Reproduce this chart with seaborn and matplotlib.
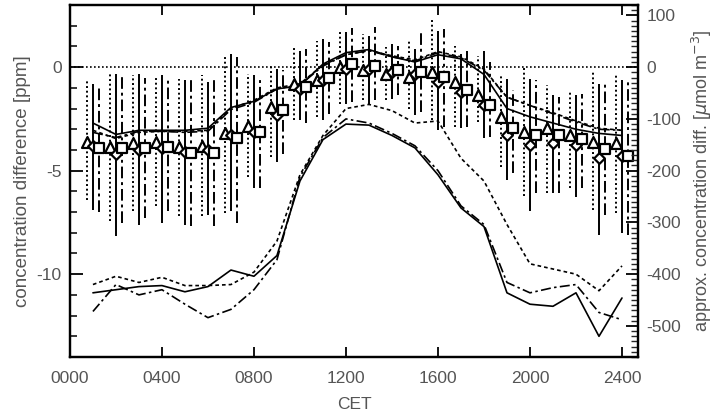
#! /bin/env python3

'''
Diurnal cycle of concentration differences (ppm) with approx. molar axis
'''

import numpy as np
import pandas as pd
import matplotlib
matplotlib.use('Agg')
import matplotlib.pyplot as plt
from matplotlib.ticker import MultipleLocator
import seaborn as sns

# hours of day (CET)
hours = list(range(1, 25))
xtick_pos = [0, 4, 8, 12, 16, 20, 24]
xtick_labels = ['0000', '0400', '0800', '1200', '1600', '2000', '2400']

# upper lines (ppm)
up_solid = [-2.7, -3.25, -3.05, -3.05, -3.05, -2.95, -1.95, -1.65, -1.05, -0.9, 0.15, 0.7,
            0.85, 0.5, 0.25, 0.6, 0.4, -0.35, -2.0, -2.4, -2.7, -3.0, -3.2, -3.3]
up_dot = [-3.05, -3.45, -3.15, -3.1, -3.1, -3.05, -2.0, -1.6, -1.0, -0.8, 0.1, 0.6,
          0.8, 0.55, 0.35, 0.75, 0.5, -0.1, -1.45, -1.85, -2.2, -2.6, -2.95, -3.05]
up_dashdot = [-3.15, -3.4, -3.1, -3.1, -3.15, -3.1, -2.05, -1.7, -1.05, -0.85, 0.05, 0.6,
              0.8, 0.5, 0.3, 0.7, 0.45, -0.15, -1.45, -1.85, -2.25, -2.65, -3.0, -3.05]

# lower lines (ppm)
low_solid = [-10.9, -10.75, -10.6, -10.55, -10.85, -10.6, -9.8, -10.1, -9.1, -5.5, -3.5, -2.75,
             -2.8, -3.3, -3.9, -5.2, -6.8, -7.7, -10.9, -11.45, -11.55, -10.9, -13.0, -11.15]
low_dot = [-10.5, -10.1, -10.4, -10.15, -10.55, -10.55, -10.5, -9.9, -8.4, -5.2, -3.3, -2.0,
           -1.8, -2.1, -2.7, -2.6, -4.4, -5.5, -7.6, -9.5, -9.75, -10.0, -10.8, -9.6]
low_dashdot = [-11.8, -10.5, -11.0, -10.75, -11.45, -12.1, -11.7, -10.75, -9.3, -5.3, -3.4, -2.5,
               -2.7, -3.2, -3.8, -5.0, -6.7, -7.6, -10.4, -10.9, -10.65, -10.5, -11.85, -12.2]

# hourly means with ranges: triangles (dotted bars)
tri = [-3.6, -3.85, -3.68, -3.6, -3.85, -3.8, -3.2, -2.85, -1.92, -0.8, -0.64, 0.0,
       -0.16, -0.32, -0.48, -0.24, -0.72, -1.36, -2.4, -3.12, -2.96, -3.28, -3.6, -3.65]
tri_lo = [-6.4, -7.45, -6.97, -6.73, -7.21, -7.21, -7.05, -5.29, -4.33, -2.56, -2.4, -1.8,
          -1.6, -1.6, -2.0, -2.56, -2.88, -2.64, -4.8, -6.2, -6.07, -5.85, -6.89, -7.05]
tri_hi = [-0.55, -0.24, -0.4, -0.45, -0.56, -0.4, 0.56, -0.32, 0.16, 0.96, 1.28, 1.76,
          1.6, 0.96, 1.36, 2.32, 1.04, 0.56, -0.4, 0.0, -0.88, -1.12, -0.24, -0.32]

# diamonds (solid bars)
dia = [-3.81, -4.2, -4.0, -3.9, -4.08, -4.0, -3.3, -3.12, -2.32, -1.04, -0.64, -0.08,
       -0.1, -0.25, -0.35, -0.72, -1.2, -1.84, -3.28, -3.76, -3.68, -3.76, -4.4, -4.29]
dia_lo = [-6.89, -8.17, -7.61, -7.53, -7.61, -7.13, -6.97, -5.85, -4.57, -2.56, -2.56, -1.76,
          -1.76, -1.52, -2.32, -3.04, -2.96, -3.44, -5.45, -6.97, -6.07, -6.25, -8.09, -8.01]
dia_hi = [-0.8, -0.32, -0.35, -0.4, -0.61, -0.72, 0.64, -0.4, -0.08, 0.8, 1.36, 1.68,
          1.52, 1.12, 0.88, 1.76, 0.64, 0.8, -0.55, -0.56, -1.36, -1.36, -0.8, -0.64]

# squares (dash-dot bars)
sq = [-3.92, -3.92, -3.9, -3.85, -4.16, -4.16, -3.44, -3.12, -2.05, -0.96, -0.53, 0.13,
      0.07, -0.13, -0.24, -0.48, -1.09, -1.84, -2.96, -3.28, -3.28, -3.49, -3.96, -4.31]
sq_lo = [-6.99, -7.53, -7.29, -6.97, -7.69, -7.69, -7.53, -5.85, -4.2, -2.72, -2.24, -1.7,
         -1.6, -1.36, -2.16, -2.88, -2.88, -3.36, -5.1, -6.07, -6.07, -5.85, -7.13, -8.09]
sq_hi = [-0.88, -0.48, -0.51, -0.64, -0.64, -0.61, 0.48, -0.48, -0.16, 0.88, 1.2, 1.9,
         1.92, 1.04, 1.68, 1.84, 0.8, 0.24, -1.12, -0.64, -1.44, -1.28, -0.72, -0.64]

PPM_TO_UMOL = 40.0

sns.set_style('ticks')
TXT = '#555555'
plt.rcParams.update({'font.family': ['Liberation Sans', 'DejaVu Sans'], 'font.size': 12.5,
                     'xtick.direction': 'in', 'ytick.direction': 'in',
                     'axes.unicode_minus': False, 'axes.linewidth': 1.6})

DOT = (0, (1, 1.4))
DASH = (0, (2.2, 1.8))
DASHDOT = (0, (6, 2, 1.5, 2))

fig = plt.figure(figsize=(7.21, 4.2), dpi=100)
ax = fig.add_axes([0.097, 0.15, 0.788, 0.838])

h = np.array(hours, dtype=float)
ax.axhline(0, color='black', lw=1.2, linestyle=DOT, zorder=1)

# error bars
for off, lo, hi, ls in [(-0.25, tri_lo, tri_hi, DOT), (0.0, dia_lo, dia_hi, '-'),
                        (0.25, sq_lo, sq_hi, DASHDOT)]:
    ax.vlines(h + off, lo, hi, colors='black', linestyles=[ls], lw=1.4, zorder=2)

# lines
for vals, ls in [(up_solid, '-'), (up_dot, DASH), (up_dashdot, DASHDOT),
                 (low_solid, '-'), (low_dot, DASH), (low_dashdot, DASHDOT)]:
    sns.lineplot(x=h, y=vals, ax=ax, color='black', lw=1.2, linestyle=ls, zorder=3)

# markers
for off, vals, mk, sz in [(-0.25, tri, '^', 62), (0.0, dia, 'D', 30), (0.25, sq, 's', 62)]:
    sns.scatterplot(x=h + off, y=vals, ax=ax, marker=mk, s=sz, color='white',
                    edgecolor='black', linewidth=1.6, zorder=4)

ax.set_xlim(0, 24.7)
ax.set_ylim(-14, 3)
ax.set_xticks(xtick_pos)
ax.set_xticklabels(xtick_labels)
ax.yaxis.set_major_locator(MultipleLocator(5))
ax.yaxis.set_minor_locator(MultipleLocator(1))
ax.tick_params(axis='x', which='major', length=7, width=1.3, top=True, bottom=True,
               colors='black', labelcolor=TXT, pad=10)
ax.tick_params(axis='y', which='major', length=9, width=1.3, left=True, right=False,
               colors='black', labelcolor=TXT, pad=6)
ax.tick_params(axis='y', which='minor', length=5, width=1.3, left=True, right=False)
ax.set_xlabel('CET', color=TXT, fontsize=12.5, labelpad=8)
ax.set_ylabel('concentration difference [ppm]', color=TXT, fontsize=13.5, labelpad=4)

ax2 = ax.twinx()
ax2.set_ylim(-14 * PPM_TO_UMOL, 3 * PPM_TO_UMOL)
ax2.yaxis.set_major_locator(MultipleLocator(100))
ax2.yaxis.set_minor_locator(MultipleLocator(10))
ax2.tick_params(axis='y', which='major', length=9, width=1.3, colors='black',
                labelcolor=TXT, pad=6)
ax2.tick_params(axis='y', which='minor', length=5, width=1.0)
ax2.set_ylabel(r'approx. concentration diff. [$\mu$mol m$^{-3}$]', color=TXT, fontsize=13,
               labelpad=6)

for a in (ax, ax2):
    for s in a.spines.values():
        s.set_color('black')
        s.set_linewidth(1.6)

fig.savefig('out.png', dpi=100)
